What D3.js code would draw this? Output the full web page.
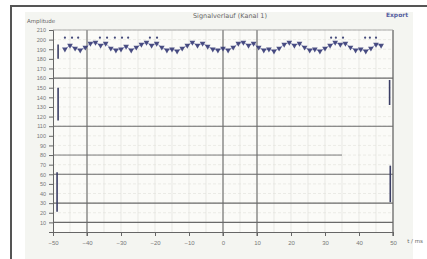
<!DOCTYPE html>
<html>
<head>
<meta charset="utf-8">
<script src="https://cdn.jsdelivr.net/npm/d3@7"></script>
<style>
body{margin:0;background:#fff;font-family:"DejaVu Sans",sans-serif}
svg text{fill:#777}
</style>
</head>
<body>
<div id="chart"></div>
<script>
// values
var xTicks = [-50,-40,-30,-20,-10,0,10,20,30,40,50]
var yTicks = d3.range(10,211,10)
var xMajor = [-40,0,10]
var yMajor = [160,110,60,30,10]

var samples = [
[-46.5,190],[-45,194],[-43.5,191],[-42,189],[-40.5,192],[-39,196],[-37.5,197],[-36,194],
[-34.5,196],[-33,191],[-31.5,189],[-30,190],[-28.5,193],[-27,189],[-25.5,192],[-24,195],
[-22.5,197],[-21,194],[-19.5,196],[-18,192],[-16.5,189],[-15,190],[-13.5,188],[-12,191],
[-10.5,194],[-9,197],[-7.5,194],[-6,196],[-4.5,193],[-3,190],[-1.5,189],[0,191],
[1.5,189],[3,192],[4.5,196],[6,197],[7.5,194],[9,196],[10.5,192],[12,189],
[13.5,190],[15,188],[16.5,191],[18,195],[19.5,197],[21,194],[22.5,196],[24,192],
[25.5,189],[27,190],[28.5,188],[30,191],[31.5,194],[33,197],[34.5,195],[36,196],
[37.5,192],[39,189],[40.5,190],[42,188],[43.5,191],[45,195],[46.5,194]
]
var peaks = [-46.5,-44.4,-42.6,-36.2,-34.1,-31.8,-29.7,-27.9,-21.5,-19.4,31.8,33.2,35.3,41.8,43.2,45]
var peakLevel = 202
var edges = [[-48.5,195,180],[-48.5,150,116],[-48.8,62,21],[49,158,132],[49.2,69,31]]

var W = 427, H = 259
var svg = d3.select("#chart").append("svg").attr("width",W).attr("height",H)

// frame + panel
svg.append("rect").attr("x",25).attr("y",12).attr("width",388).attr("height",247).attr("fill","#f4f5f1")
svg.append("path").attr("d","M11,259V6H427").attr("fill","none").attr("stroke","#555").attr("stroke-width",2)

var x = d3.scaleLinear().domain([-50,50]).range([53,393])
var y = d3.scaleLinear().domain([0,210]).range([232,30])

var g = svg.append("g")
g.append("rect").attr("x",x(-50)).attr("y",y(210)).attr("width",x(50)-x(-50)).attr("height",y(0)-y(210)).attr("fill","#fbfbf8")

// minor grid
g.selectAll(".vmin").data(d3.range(-45,50,5)).enter().append("line")
 .attr("x1",d=>x(d)).attr("x2",d=>x(d)).attr("y1",y(0)).attr("y2",y(210))
 .attr("stroke","#dcdcd6").attr("stroke-width",0.6)
g.selectAll(".hmin").data(yTicks).enter().append("line")
 .attr("x1",x(-50)).attr("x2",x(50)).attr("y1",d=>y(d)).attr("y2",d=>y(d))
 .attr("stroke","#e0e0da").attr("stroke-width",0.6).attr("stroke-dasharray","3,2")

// major grid
g.selectAll(".hmaj").data(yMajor).enter().append("line")
 .attr("x1",x(-50)).attr("x2",x(50)).attr("y1",d=>y(d)).attr("y2",d=>y(d))
 .attr("stroke","#6a6a6a").attr("stroke-width",1.1)
g.append("line").attr("x1",x(-50)).attr("x2",x(35)).attr("y1",y(80)).attr("y2",y(80))
 .attr("stroke","#7a7a7a").attr("stroke-width",1)
g.selectAll(".vmaj").data(xMajor).enter().append("line")
 .attr("x1",d=>x(d)).attr("x2",d=>x(d)).attr("y1",y(0)+4).attr("y2",y(210))
 .attr("stroke","#6a6a6a").attr("stroke-width",1.1)
g.append("line").attr("x1",x(50)).attr("x2",x(50)).attr("y1",y(0)+4).attr("y2",y(210))
 .attr("stroke","#666").attr("stroke-width",1.3)
g.append("line").attr("x1",x(-50)).attr("x2",x(50)).attr("y1",y(210)).attr("y2",y(210))
 .attr("stroke","#999").attr("stroke-width",0.8)

// axes
var yAxis = g.append("g").attr("transform","translate("+x(-50)+",0)")
 .call(d3.axisLeft(y).tickValues(yTicks).tickSize(4).tickPadding(3))
yAxis.selectAll("text").style("font-size","5.5px")
yAxis.selectAll("line,path").attr("stroke","#666")
var xAxis = g.append("g").attr("transform","translate(0,"+y(0)+")")
 .call(d3.axisBottom(x).tickValues(xTicks).tickSize(4).tickPadding(5))
xAxis.selectAll("text").style("font-size","6px")
xAxis.selectAll("line,path").attr("stroke","#666")

// traces
var edgeColor = "#3c3f66"
g.selectAll(".edge").data(edges).enter().append("line")
 .attr("x1",d=>x(d[0])).attr("x2",d=>x(d[0])).attr("y1",d=>y(d[1])).attr("y2",d=>y(d[2]))
 .attr("stroke",edgeColor).attr("stroke-width",1.6)

var line = d3.line().x(d=>x(d[0])).y(d=>y(d[1]))
g.append("path").datum(samples).attr("d",line).attr("fill","none")
 .attr("stroke","#8d91c4").attr("stroke-width",0.8)
var tri = d3.symbol().type(d3.symbolTriangle).size(14)
g.selectAll(".mk").data(samples).enter().append("path")
 .attr("d",tri).attr("transform",d=>"translate("+x(d[0])+","+y(d[1])+") rotate(180)")
 .attr("fill","#2e3270").attr("opacity",0.85)
g.selectAll(".pk").data(peaks).enter().append("circle")
 .attr("cx",d=>x(d)).attr("cy",y(peakLevel)).attr("r",1.1).attr("fill","#444a7a")

// labels
svg.append("text").attr("x",230).attr("y",18).attr("text-anchor","middle")
 .style("font-size","6.5px").style("fill","#666").text("Signalverlauf (Kanal 1)")
svg.append("text").attr("x",397).attr("y",17).attr("text-anchor","middle")
 .style("font-size","6px").style("fill","#5560a0").style("font-weight","bold").text("Export")
svg.append("text").attr("x",27).attr("y",23).style("font-size","5.5px").style("fill","#666").text("Amplitude")
svg.append("text").attr("x",415).attr("y",243).attr("text-anchor","middle")
 .style("font-size","5.5px").style("fill","#666").text("t / ms")
</script>
</body>
</html>
